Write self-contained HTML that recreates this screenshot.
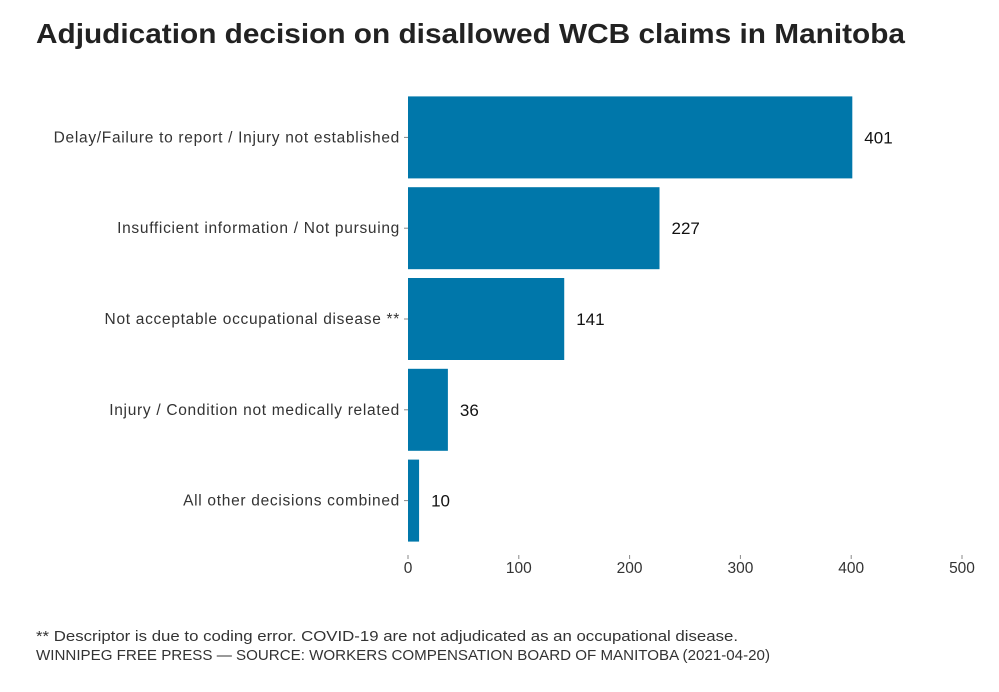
<!DOCTYPE html>
<html><head><meta charset="utf-8"><style>
body{margin:0;background:#fff;}
svg{display:block;font-family:"Liberation Sans",sans-serif;}
</style></head><body>
<svg id="chart" width="999" height="692">
<text x="36" y="43" font-size="28" font-weight="bold" fill="#222" textLength="869" lengthAdjust="spacingAndGlyphs">Adjudication decision on disallowed WCB claims in Manitoba</text>
<g id="bars"></g>
<g id="xaxis"></g>
<text x="36" y="641" font-size="15" fill="#333" textLength="702" lengthAdjust="spacingAndGlyphs">** Descriptor is due to coding error. COVID-19 are not adjudicated as an occupational disease.</text>
<text x="36" y="660" font-size="15" fill="#333" textLength="734" lengthAdjust="spacingAndGlyphs">WINNIPEG FREE PRESS — SOURCE: WORKERS COMPENSATION BOARD OF MANITOBA (2021-04-20)</text>
</svg>
<script>
const categories=["Delay/Failure to report / Injury not established","Insufficient information / Not pursuing","Not acceptable occupational disease **","Injury / Condition not medically related","All other decisions combined"];
const values=[401,227,141,36,10];
const ticks=[0,100,200,300,400,500];
const NS="http://www.w3.org/2000/svg";
const X0=408,X1=962,XMAX=500,TOPY=92,STEP=90.8,BH=82;
const xs=v=>X0+(X1-X0)*v/XMAX;
const yb=i=>TOPY+i*STEP+(STEP-BH)/2;
function mk(t,a,p){const e=document.createElementNS(NS,t);for(const k in a)e.setAttribute(k,a[k]);p.appendChild(e);return e;}
const gb=document.getElementById('bars'),gx=document.getElementById('xaxis');
categories.forEach((c,i)=>{
 const y=yb(i);
 const r=mk('rect',{x:X0,y:y,width:xs(values[i])-X0,height:BH,fill:'#0077aa'},gb);
 
 
 const l=mk('text',{x:xs(values[i])+12,y:y+BH/2+6,'font-size':17,fill:'#111'},gb);l.textContent=values[i];
 
 
 const tm=mk('line',{x1:X0-4,x2:X0,y1:y+BH/2,y2:y+BH/2,stroke:'#888'},gb);
 
 
 const cl=mk('text',{x:X0-8,y:y+BH/2+5,'font-size':15.5,fill:'#333','text-anchor':'end','letter-spacing':'0.7'},gb);cl.textContent=c;
 
 
});
ticks.forEach(t=>{
 const m=mk('line',{x1:xs(t),x2:xs(t),y1:555,y2:559,stroke:'#888'},gx);
 
 
 const tl=mk('text',{x:xs(t),y:573,'font-size':15.5,fill:'#333','text-anchor':'middle'},gx);tl.textContent=t;
 
 
});
</script>
</body></html>
